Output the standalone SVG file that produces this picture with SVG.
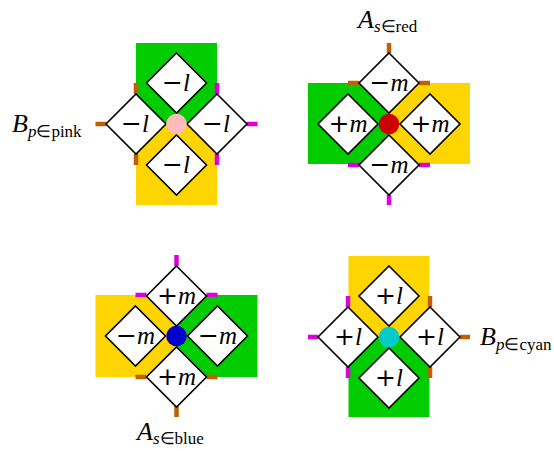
<svg xmlns="http://www.w3.org/2000/svg" width="554" height="451" viewBox="0 0 554 451">
<style>
.g{fill:#00CC00}
.y{fill:#FFD500}
.d{fill:#fff;stroke:#000;stroke-width:1.6;stroke-linejoin:miter}
.t{font-family:"Liberation Serif","Times New Roman",serif;font-size:25px;text-anchor:middle}
.s{font-family:"DejaVu Serif",serif}
.i{font-style:italic}
.to{stroke:#C06000;stroke-width:4.5;fill:none}
.tm{stroke:#DD00DD;stroke-width:4.5;fill:none}
.lb{font-family:"Liberation Serif","Times New Roman",serif;font-size:26px}
.sb{font-size:17px}
</style>
<g id="fills">
<rect class="g" x="136" y="43" width="81" height="81"/>
<rect class="y" x="136" y="124" width="81" height="81"/>
<rect class="g" x="308" y="83" width="81" height="81"/>
<rect class="y" x="389" y="83" width="81" height="81"/>
<rect class="y" x="95.5" y="295" width="81" height="82"/>
<rect class="g" x="176.5" y="295" width="81" height="82"/>
<rect class="y" x="348.5" y="256" width="81" height="81"/>
<rect class="g" x="348.5" y="337" width="81" height="80"/>
</g>
<g id="connectors">
<path class="to" d="M136 83V94M136 154V165M95.5 124H106.5"/>
<path class="tm" d="M217 83V94M217 154V165M246.5 124H257.5"/>
<path class="to" d="M389 43V53M348 83H359M419 83H430"/>
<path class="tm" d="M389 195V205M348 165H359M419 165H430"/>
<path class="tm" d="M176.5 255V266M135.5 295H146.5M206.5 295H217.5"/>
<path class="to" d="M176.5 406V417M135.5 377H146.5M206.5 377H217.5"/>
<path class="tm" d="M348 296V307M348 367V378M308 337H318"/>
<path class="to" d="M430 296V307M430 367V378M460 337H470"/>
</g>
<g id="pink-top"><polygon class="d" points="176.5,53 206.5,83 176.5,113 146.5,83"/><text class="t" x="176" y="91"><tspan class="s">−</tspan><tspan class="i">l</tspan></text></g>
<g id="pink-left"><polygon class="d" points="136,94 166,124 136,154 106,124"/><text class="t" x="135" y="132"><tspan class="s">−</tspan><tspan class="i">l</tspan></text></g>
<g id="pink-right"><polygon class="d" points="217,94 247,124 217,154 187,124"/><text class="t" x="216" y="132"><tspan class="s">−</tspan><tspan class="i">l</tspan></text></g>
<g id="pink-bottom"><polygon class="d" points="176.5,135 206.5,165 176.5,195 146.5,165"/><text class="t" x="176" y="173"><tspan class="s">−</tspan><tspan class="i">l</tspan></text></g>
<g id="pink-node"><circle cx="176.5" cy="124" r="10.3" fill="#FFBBBB"/></g>
<g id="label-pink"><text class="lb" x="12" y="132"><tspan class="i">B</tspan><tspan class="sb" dy="5"><tspan class="i">p</tspan>∈pink</tspan></text></g>
<g id="red-top"><polygon class="d" points="389,53 419,83 389,113 359,83"/><text class="t" x="389" y="91"><tspan class="s">−</tspan><tspan class="i">m</tspan></text></g>
<g id="red-left"><polygon class="d" points="348,94 378,124 348,154 318,124"/><text class="t" x="348" y="132"><tspan class="s">+</tspan><tspan class="i">m</tspan></text></g>
<g id="red-right"><polygon class="d" points="430,94 460,124 430,154 400,124"/><text class="t" x="430" y="132"><tspan class="s">+</tspan><tspan class="i">m</tspan></text></g>
<g id="red-bottom"><polygon class="d" points="389,135 419,165 389,195 359,165"/><text class="t" x="389" y="173"><tspan class="s">−</tspan><tspan class="i">m</tspan></text></g>
<g id="red-node"><circle cx="389" cy="124" r="10.3" fill="#CC0000"/></g>
<g id="label-red"><text class="lb" x="358" y="28"><tspan class="i">A</tspan><tspan class="sb" dy="4"><tspan class="i">s</tspan>∈red</tspan></text></g>
<g id="blue-top"><polygon class="d" points="176.5,266 206.5,296 176.5,326 146.5,296"/><text class="t" x="176.5" y="304"><tspan class="s">+</tspan><tspan class="i">m</tspan></text></g>
<g id="blue-left"><polygon class="d" points="135.5,306 165.5,336 135.5,366 105.5,336"/><text class="t" x="135.5" y="344"><tspan class="s">−</tspan><tspan class="i">m</tspan></text></g>
<g id="blue-right"><polygon class="d" points="217.5,306 247.5,336 217.5,366 187.5,336"/><text class="t" x="217.5" y="344"><tspan class="s">−</tspan><tspan class="i">m</tspan></text></g>
<g id="blue-bottom"><polygon class="d" points="176.5,347 206.5,377 176.5,407 146.5,377"/><text class="t" x="176.5" y="385"><tspan class="s">+</tspan><tspan class="i">m</tspan></text></g>
<g id="blue-node"><circle cx="176.5" cy="336" r="10.3" fill="#0000CC"/></g>
<g id="label-blue"><text class="lb" x="137" y="440"><tspan class="i">A</tspan><tspan class="sb" dy="4"><tspan class="i">s</tspan>∈blue</tspan></text></g>
<g id="cyan-top"><polygon class="d" points="389,266 419,296 389,326 359,296"/><text class="t" x="389" y="304"><tspan class="s">+</tspan><tspan class="i">l</tspan></text></g>
<g id="cyan-left"><polygon class="d" points="348,307 378,337 348,367 318,337"/><text class="t" x="348" y="345"><tspan class="s">+</tspan><tspan class="i">l</tspan></text></g>
<g id="cyan-right"><polygon class="d" points="430,307 460,337 430,367 400,337"/><text class="t" x="430" y="345"><tspan class="s">+</tspan><tspan class="i">l</tspan></text></g>
<g id="cyan-bottom"><polygon class="d" points="389,348 419,378 389,408 359,378"/><text class="t" x="389" y="386"><tspan class="s">+</tspan><tspan class="i">l</tspan></text></g>
<g id="cyan-node"><circle cx="389" cy="337" r="10.3" fill="#00CCCC"/></g>
<g id="label-cyan"><text class="lb" x="480" y="345"><tspan class="i">B</tspan><tspan class="sb" dy="5"><tspan class="i">p</tspan>∈cyan</tspan></text></g>
</svg>
